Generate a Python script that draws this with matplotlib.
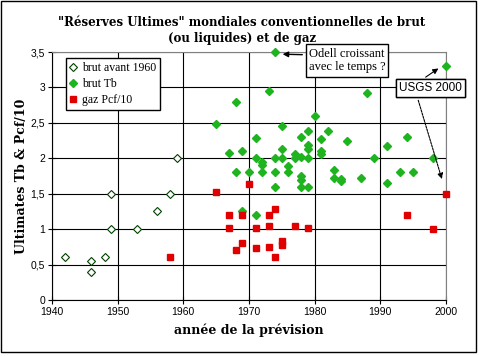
import matplotlib
matplotlib.use("Agg")
import matplotlib.pyplot as plt
from matplotlib.patches import Rectangle

# brut avant 1960 (open diamonds)
old_years = [1942, 1946, 1946, 1948, 1949, 1949, 1953, 1956, 1958, 1959]
old_vals = [0.6, 0.55, 0.4, 0.6, 1.5, 1.0, 1.0, 1.25, 1.5, 2.0]

# brut Tb (green diamonds)
tb_years = [1965, 1967, 1968, 1968, 1969, 1969, 1970, 1971, 1971, 1971,
            1972, 1972, 1972, 1973, 1974, 1974, 1974, 1974, 1975, 1975,
            1975, 1976, 1976, 1977, 1977, 1978, 1978, 1978, 1978, 1978,
            1979, 1979, 1979, 1979, 1979, 1980, 1981, 1981, 1981, 1982,
            1983, 1983, 1984, 1984, 1985, 1987, 1988, 1989, 1991, 1991,
            1993, 1994, 1995, 1998, 2000]
tb_vals = [2.48, 2.08, 2.79, 1.8, 2.1, 1.26, 1.8, 2.28, 2.0, 1.2,
           1.95, 1.91, 1.8, 2.95, 3.5, 2.0, 1.8, 1.59, 2.45, 2.13,
           2.0, 1.89, 1.8, 2.06, 2.0, 2.3, 2.02, 1.75, 1.69, 1.59,
           2.39, 2.19, 2.13, 2.0, 1.59, 2.59, 2.27, 2.1, 2.06, 2.39,
           1.83, 1.72, 1.71, 1.68, 2.24, 1.72, 2.92, 2.0, 2.17, 1.65,
           1.8, 2.3, 1.8, 2.0, 3.3]

# gaz Pcf/10 (red squares)
gaz_years = [1958, 1965, 1967, 1967, 1968, 1969, 1969, 1970, 1971, 1971,
             1973, 1973, 1973, 1974, 1974, 1975, 1975, 1977, 1979, 1994,
             1998, 2000]
gaz_vals = [0.6, 1.53, 1.2, 1.02, 0.7, 1.2, 0.81, 1.64, 1.01, 0.73,
            1.2, 1.05, 0.75, 1.29, 0.61, 0.83, 0.77, 1.05, 1.02, 1.2,
            1.0, 1.5]

x_ticks = [1940, 1950, 1960, 1970, 1980, 1990, 2000]
y_ticks = [0, 0.5, 1, 1.5, 2, 2.5, 3, 3.5]
y_labels = ["0", "0,5", "1", "1,5", "2", "2,5", "3", "3,5"]

green = "#1fb41f"
red = "#e00000"

fig = plt.figure(figsize=(4.84, 3.56), dpi=100)
ax = fig.add_axes([0.1074, 0.1573, 0.814, 0.6966])

ax.plot(old_years, old_vals, linestyle="none", marker="D", ms=4,
        mfc="white", mec="#004000", mew=0.8, label="brut avant 1960",
        zorder=3, clip_on=False)
ax.plot(tb_years, tb_vals, linestyle="none", marker="D", ms=3.8,
        mfc=green, mec=green, label="brut Tb", zorder=4, clip_on=False)
ax.plot(gaz_years, gaz_vals, linestyle="none", marker="s", ms=4.3,
        mfc=red, mec=red, label="gaz Pcf/10", zorder=5, clip_on=False)

ax.set_xlim(1940, 2000)
ax.set_ylim(0, 3.5)
ax.set_xticks(x_ticks)
ax.set_yticks(y_ticks)
ax.set_yticklabels(y_labels)
ax.grid(True, color="black", linewidth=0.8)
ax.set_axisbelow(True)
ax.tick_params(direction="inout", length=6, width=0.8, labelsize=7.5, pad=2)
for lab in ax.get_xticklabels() + ax.get_yticklabels():
    lab.set_family("Liberation Sans")
for side in ["left", "bottom"]:
    ax.spines[side].set_linewidth(0.8)
ax.spines["top"].set_color("#808080")
ax.spines["right"].set_color("#808080")

ax.set_xlabel("année de la prévision", family="DejaVu Serif",
              fontweight="bold", fontsize=9, labelpad=5)
ax.set_ylabel("Ultimates Tb & Pcf/10", family="DejaVu Serif",
              fontweight="bold", fontsize=9, labelpad=2)
fig.text(0.5, 0.915, "\"Réserves Ultimes\" mondiales conventionnelles de brut\n(ou liquides) et de gaz",
         ha="center", va="center", family="DejaVu Serif", fontweight="bold",
         fontsize=8.5, linespacing=1.25)

leg = ax.legend(loc="upper left", bbox_to_anchor=(0.035, 0.977),
                borderaxespad=0, fancybox=False, framealpha=1,
                edgecolor="black", handlelength=0.6, handletextpad=0.4,
                borderpad=0.35, labelspacing=0.35,
                prop={"family": "Liberation Serif", "size": 8.5})
leg.get_frame().set_linewidth(1)

box = dict(boxstyle="square,pad=0.25", fc="white", ec="black", lw=1)
ax.annotate("Odell croissant\navec le temps ?", xy=(1974.7, 3.47),
            xytext=(1979.1, 3.38), ha="left", va="center",
            family="Liberation Serif", fontsize=9, bbox=box,
            annotation_clip=False, zorder=6,
            arrowprops=dict(arrowstyle="-|>", color="black", lw=1,
                            mutation_scale=8, relpos=(0, 0.72)))
ax.annotate("USGS 2000", xy=(1999.2, 3.29), xytext=(1997.7, 2.99),
            ha="center", va="center", family="Liberation Sans", fontsize=8.5,
            bbox=box, annotation_clip=False, zorder=6,
            arrowprops=dict(arrowstyle="-|>", color="black", lw=0.8,
                            mutation_scale=8, relpos=(0.3, 1)))
ax.annotate("USGS 2000", xy=(1999.5, 1.67), xytext=(1997.7, 2.99),
            ha="center", va="center", family="Liberation Sans", fontsize=8.5,
            bbox=box, annotation_clip=False, zorder=6,
            arrowprops=dict(arrowstyle="-|>", color="black", lw=0.8,
                            linestyle=(0, (2, 1)), mutation_scale=8,
                            relpos=(0.27, 0)))

fig.add_artist(Rectangle((0.002, 0.0126), 0.9825, 0.9844, transform=fig.transFigure,
                         fill=False, edgecolor="black", linewidth=1))

fig.savefig("out.png", dpi=100)
